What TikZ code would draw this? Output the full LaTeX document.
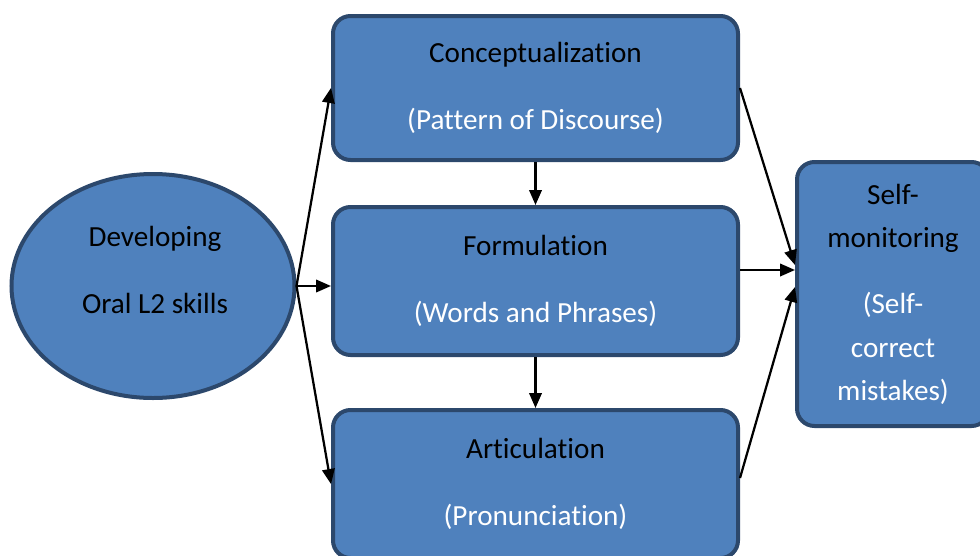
\documentclass[tikz,border=0pt]{standalone}
\usepackage{fontspec}
\setmainfont{Carlito}[Ligatures={NoCommon,NoRare}]
\usetikzlibrary{arrows.meta,shapes.geometric}
\definecolor{boxfill}{RGB}{79,129,189}
\definecolor{boxline}{RGB}{44,72,108}
\begin{document}
\begin{tikzpicture}[>={Triangle[length=0.3cm,width=0.25cm]}, line width=0.045cm,
main node/.style={rectangle,rounded corners=0.35cm,draw=boxline,fill=boxfill,line width=0.08cm,text=white,align=center,inner sep=0pt},
oval node/.style={ellipse,draw=boxline,fill=boxfill,line width=0.08cm,minimum width=5.66cm,minimum height=4.48cm,inner sep=0pt}]
\useasboundingbox (0,0) rectangle (19.6,11.1);
\begin{scope}[every node/.style={font=\fontsize{16.6}{24.5}\selectfont}]
\node [oval node](v0) at (3.06,5.38) {};
\node [align=center](t0) at (3.1,5.70) {Developing\\[14pt]Oral L2 skills};
\node [main node,minimum width=8.1cm,minimum height=2.88cm](v1) at (10.71,9.34) {\textcolor{black}{Conceptualization}\\[14pt](Pattern of Discourse)};
\node [main node,minimum width=8.1cm,minimum height=2.96cm](v2) at (10.71,5.48) {\textcolor{black}{Formulation}\\[14pt](Words and Phrases)};
\node [main node,minimum width=8.1cm,minimum height=2.96cm](v3) at (10.71,1.42) {\textcolor{black}{Articulation}\\[14pt](Pronunciation)};
\node [main node,minimum width=3.84cm,minimum height=5.28cm](v4) at (17.86,5.22) {\textcolor{black}{Self-}\\\textcolor{black}{monitoring}\\[13.5pt](Self-\\correct\\mistakes)};
\end{scope}
\coordinate (c1) at ([yshift=0.58cm]v4.west);
\coordinate (c2) at ([yshift=0.48cm]v4.west);
\coordinate (c3) at ([yshift=0.14cm]v4.west);
\draw [->] (v0.east) -- (v1.west);
\draw [->] (v0.east) -- (v0.east -| v2.west);
\draw [->] (v0.east) -- (v3.west);
\draw [->] (v1) edge (v2);
\draw [->] (v2) edge (v3);
\draw [->] (v1.east) -- (c1);
\draw [->] (v2.east |- c2) -- (c2);
\draw [->] ([yshift=0.12cm]v3.east) -- (c3);
\end{tikzpicture}
\end{document}
